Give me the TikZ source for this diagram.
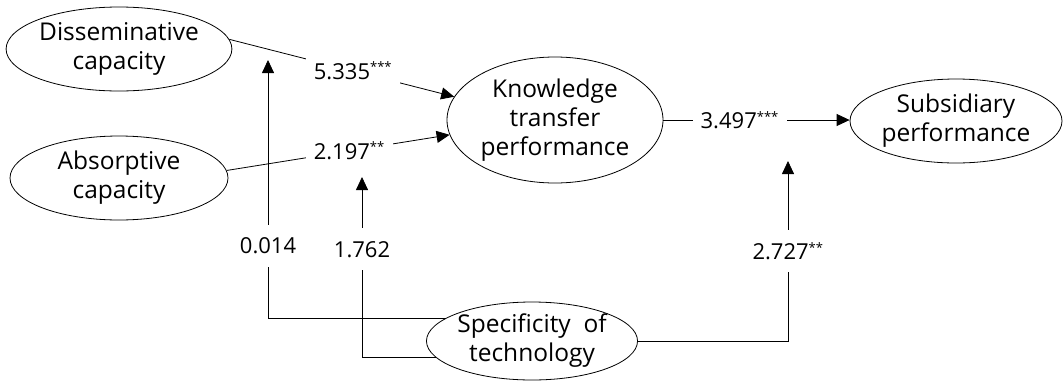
\documentclass[tikz,border=0pt]{standalone}
\usepackage{fontspec}
\setmainfont{Open Sans}
\usetikzlibrary{arrows.meta,shapes.geometric,positioning}
\newcommand{\sig}[1]{\textsuperscript{\fontsize{13}{13}\selectfont #1}}
\tikzset{
    every picture/.style={
        x=1pt,y=-1pt,line width=.8pt,>={Triangle[length=13pt,width=12pt]},
        construct/.style={ellipse,draw,inner sep=0pt,align=center,
            font=\fontsize{24.5}{29}\selectfont},
        coef/.style={fill=white,inner xsep=8pt,minimum height=42pt,
            font=\fontsize{22}{26}\selectfont}
    }
}
\begin{document}
\begin{tikzpicture}
    \useasboundingbox (0,0) rectangle (1063,381);
    \node[construct,minimum width=218pt,minimum height=84pt]  (diss) at (119,49)  {Disseminative\\capacity};
    \node[construct,minimum width=218pt,minimum height=84pt]  (abs)  at (119,178) {Absorptive\\capacity};
    \node[construct,minimum width=216pt,minimum height=126pt] (know) at (555,120) {Knowledge\\transfer\\performance};
    \node[construct,minimum width=212pt,minimum height=84pt]  (subs) at (956,121) {Subsidiary\\performance};
    \node[construct,minimum width=203pt,minimum height=78pt]  (spec) at (532,341) {Specificity~~of\\technology};
    \coordinate (m1) at (268,60);
    \coordinate (m2) at (362,177);
    \coordinate (m3) at (788,161);
    % main paths
    \draw[->] (diss.5) -- node[coef,pos=.55] {5.335\sig{***}} (know.167);
    \draw[->] (abs.4) -- node[coef,pos=.55] {2.197\sig{**}} (know.188);
    \draw[->] (know.east) -- node[coef,pos=.41] {3.497\sig{***}} (know.east -| subs.west);
    % moderation
    \draw[->] (spec.165) -| node[coef,pos=.64] {0.014} (m1);
    \draw[->] (spec.190) -| node[coef,pos=.8] {1.762} (m2);
    \draw[->] (spec.east) -| node[coef,pos=.75] {2.727\sig{**}} (m3);
\end{tikzpicture}
\end{document}
